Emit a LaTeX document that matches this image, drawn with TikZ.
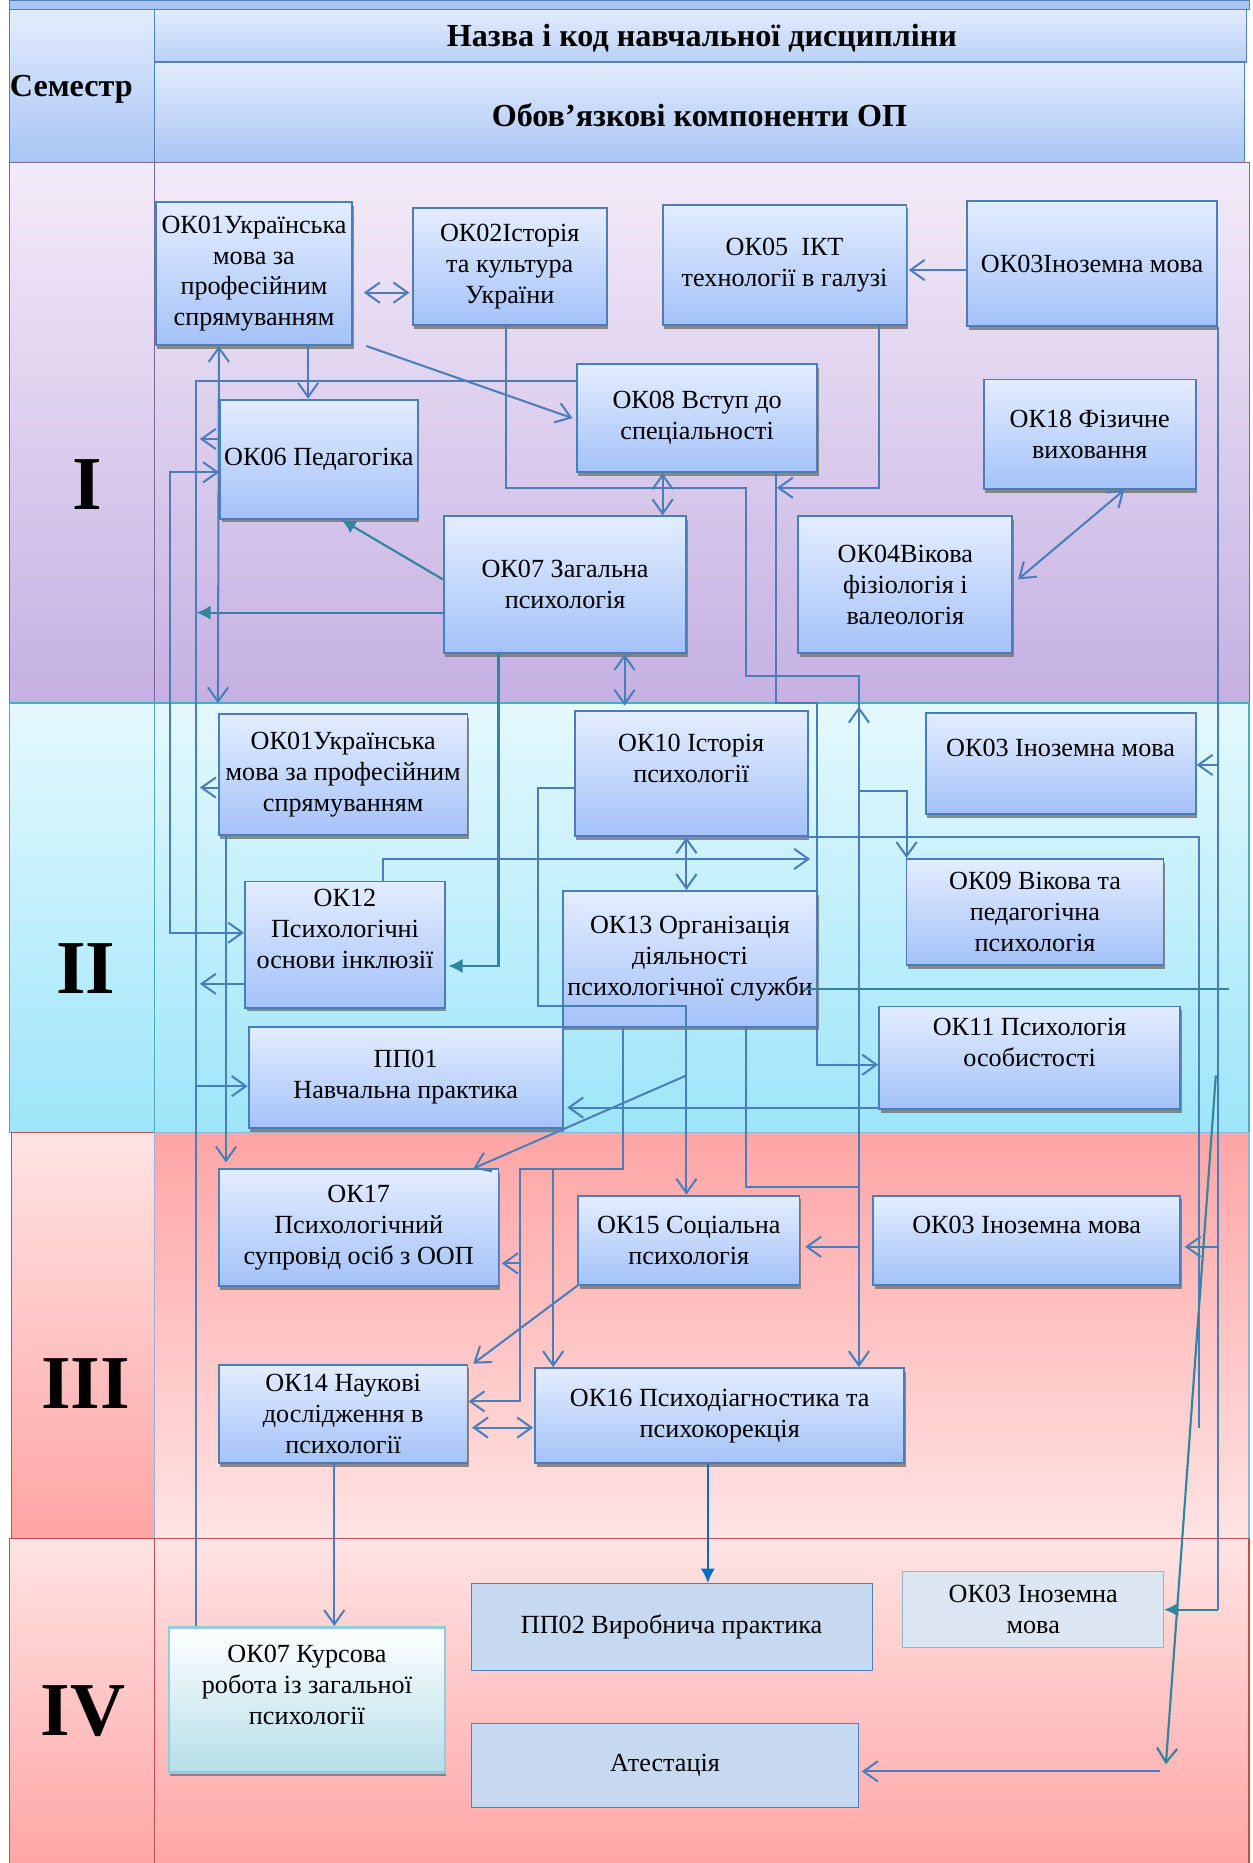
\documentclass[tikz,border=0pt]{standalone}
\usepackage{fontspec}
\setmainfont{Liberation Serif}
\usetikzlibrary{arrows.meta,shadows}

\definecolor{linec}{HTML}{4A7EBB}
\definecolor{tealc}{HTML}{31859C}
\definecolor{darkblue}{HTML}{0070C0}
\definecolor{boxtop}{HTML}{E4EDFF}
\definecolor{boxbot}{HTML}{A4C2F8}
\definecolor{hdtop}{HTML}{E3ECFD}
\definecolor{hdbot}{HTML}{A9C5F4}
\definecolor{hdline}{HTML}{4F81BD}
\definecolor{Itop}{HTML}{F3EBF8}
\definecolor{Ibot}{HTML}{C5B0E2}
\definecolor{Iline}{HTML}{8064A2}
\definecolor{IItop}{HTML}{E4F9FE}
\definecolor{IIbot}{HTML}{9DE5F9}
\definecolor{IIline}{HTML}{4BACC6}
\definecolor{pinklt}{HTML}{FFE3E3}
\definecolor{pinkdk}{HTML}{FFA5A5}
\definecolor{redline}{HTML}{C0504D}
\definecolor{paleline}{HTML}{95B3D7}
\definecolor{flatc}{HTML}{C6D9F1}
\definecolor{flatlt}{HTML}{DCE6F2}
\definecolor{aquatop}{HTML}{FFFFFF}
\definecolor{aquabot}{HTML}{B6DDE8}
\definecolor{aqualine}{HTML}{92CDDC}

\begin{document}
\begin{tikzpicture}[x=0.5pt,y=-0.5pt,
    >={Straight Barb[length=6pt,width=8.5pt]},
    okbox/.style={draw=linec,line width=0.8pt,top color=boxtop,bottom color=boxbot,
      drop shadow={shadow xshift=0.6pt,shadow yshift=-1.6pt,fill=black!55,opacity=0.8},
      align=center,inner sep=0pt,font=\fontsize{11}{13}\selectfont},
    flatbox/.style={draw=hdline,line width=0.4pt,fill=flatc,
      align=center,inner sep=0pt,font=\fontsize{11}{13}\selectfont},
    aquabox/.style={draw=aqualine,line width=1.2pt,top color=aquatop,bottom color=aquabot,
      drop shadow={shadow xshift=0.6pt,shadow yshift=-1.6pt,fill=black!55,opacity=0.8},
      align=center,inner sep=0pt,font=\fontsize{11}{13}\selectfont},
    headtext/.style={font=\fontsize{13.5}{16}\selectfont\bfseries},
    semtext/.style={font=\fontsize{32}{32}\selectfont\bfseries},
    conn/.style={draw=linec,line width=0.85pt},
    tline/.style={draw=tealc,line width=0.9pt},
    tconn/.style={tline,-{Latex[length=6pt,width=6pt]}},
    bconn/.style={draw=darkblue,line width=0.9pt,-{Latex[length=6pt,width=6pt]}}]

\useasboundingbox (0,0) rectangle (1053,1566);

\shadedraw[top color=hdbot,bottom color=hdbot,draw=hdline] (8,0) rectangle (1050,8);
\shadedraw[top color=hdtop,bottom color=hdbot,draw=hdline,line width=0.6pt] (8,8) rectangle (130,137);
\shadedraw[top color=hdtop,bottom color=hdbot!80!white,draw=hdline,line width=0.6pt] (130,8) rectangle (1048,52);
\shadedraw[top color=hdtop,bottom color=hdbot,draw=hdline,line width=0.6pt] (130,52) rectangle (1046,137);

\shadedraw[top color=Itop,bottom color=Ibot,draw=Iline,line width=0.4pt] (8,137) rectangle (1050,591);
\draw[Iline,line width=0.4pt] (130,137) -- (130,591);
\shadedraw[top color=IItop,bottom color=IIbot,draw=IIline,line width=0.6pt] (8,591) rectangle (1050,952);
\draw[IIline,line width=0.6pt] (130,591) -- (130,952);
\shadedraw[top color=pinklt,bottom color=pinkdk,draw=redline,line width=0.4pt] (10,952) rectangle (130,1293);
\shadedraw[top color=pinkdk,bottom color=pinklt,draw=paleline,line width=0.6pt] (130,952) rectangle (1050,1293);
\shadedraw[top color=pinklt,bottom color=pinkdk,draw=redline,line width=0.6pt] (8,1293) rectangle (1050,1570);
\draw[redline,line width=0.6pt] (130,1293) -- (130,1570);

\node[headtext,anchor=west,inner sep=0pt] (sem) at (8,75) {Семестр};
\node[headtext] (title) at (590,32) {Назва і код навчальної дисципліни};
\node[headtext] (comp) at (588,97) {Обов’язкові компоненти ОП};

\node[semtext] (s1) at (73,407) {I};
\node[semtext] (s2) at (72,814) {II};
\node[semtext] (s3) at (72,1163) {III};
\node[semtext] (s4) at (70,1438) {IV};

\node[okbox,minimum width=82.5pt,minimum height=60pt] (ok01a) at (213.5,230) {ОК01Українська\\мова за\\професійним\\спрямуванням};
\node[okbox,minimum width=81.5pt,minimum height=49pt] (ok02) at (428.5,224) {ОК02Історія\\та культура\\України};
\node[okbox,minimum width=102.5pt,minimum height=50.5pt] (ok05) at (659.5,222.5) {ОК05\ \ ІКТ\\технології в галузі};
\node[okbox,minimum width=105pt,minimum height=52.5pt] (ok03a) at (918,221.5) {ОК03Іноземна мова};
\node[okbox,minimum width=101pt,minimum height=45.5pt] (ok08) at (586,351.5) {ОК08 Вступ до\\спеціальності};
\node[okbox,minimum width=89pt,minimum height=46pt] (ok18) at (916,365) {ОК18 Фізичне\\виховання};
\node[okbox,minimum width=83pt,minimum height=50pt] (ok06) at (268,386) {ОК06 Педагогіка};
\node[okbox,minimum width=102pt,minimum height=57.5pt] (ok07) at (475,491.5) {ОК07 Загальна\\психологія};
\node[okbox,minimum width=90pt,minimum height=57.5pt] (ok04) at (761,491.5) {ОК04Вікова\\фізіологія і\\валеологія};

\node[okbox,minimum width=104.5pt,minimum height=51pt] (ok01b) at (288.5,651) {ОК01Українська\\мова за професійним\\спрямуванням};
\node[okbox,minimum width=98pt,minimum height=52.5pt] (ok10) at (581,650.5) {ОК10 Історія\\психології\\ \mbox{}};
\node[okbox,minimum width=113.5pt,minimum height=42.5pt] (ok03b) at (891.5,641.5) {ОК03 Іноземна мова\\ \mbox{}};
\node[okbox,minimum width=108pt,minimum height=44.5pt] (ok09) at (870,766.5) {ОК09 Вікова та\\педагогічна\\психологія};
\node[okbox,minimum width=84pt,minimum height=53pt] (ok12) at (290,794) {ОК12\\Психологічні\\основи інклюзії\\ \mbox{}};
\node[okbox,minimum width=107pt,minimum height=57pt] (ok13) at (580,806) {ОК13 Організація\\діяльності\\психологічної служби};
\node[okbox,minimum width=126.5pt,minimum height=43pt] (ok11) at (865.5,889) {ОК11 Психологія\\особистості\\ \mbox{}};
\node[okbox,minimum width=132pt,minimum height=42.5pt] (pp01) at (341,905.5) {ПП01\\Навчальна практика};

\node[okbox,minimum width=117.5pt,minimum height=49pt] (ok17) at (301.5,1032) {ОК17\\Психологічний\\супровід осіб з ООП};
\node[okbox,minimum width=93pt,minimum height=37.5pt] (ok15) at (579,1042.5) {ОК15 Соціальна\\психологія};
\node[okbox,minimum width=129pt,minimum height=37.5pt] (ok03c) at (863,1042.5) {ОК03 Іноземна мова\\ \mbox{}};
\node[okbox,minimum width=104.5pt,minimum height=41.5pt] (ok14) at (288.5,1188.5) {ОК14 Наукові\\дослідження в\\психології};
\node[okbox,minimum width=155pt,minimum height=40pt] (ok16) at (605,1190) {ОК16 Психодіагностика та\\психокорекція};

\node[aquabox,minimum width=116pt,minimum height=61pt] (ok07b) at (258,1429) {ОК07 Курсова\\робота із загальної\\психології\\ \mbox{}};
\node[flatbox,minimum width=168.5pt,minimum height=36.5pt] (pp02) at (564.5,1367.5) {ПП02 Виробнича практика};
\node[flatbox,fill=flatlt,draw=paleline,minimum width=109.5pt,minimum height=32pt] (ok03d) at (868.5,1353) {ОК03 Іноземна\\мова};
\node[flatbox,minimum width=163pt,minimum height=35pt] (atest) at (559,1484) {Атестація};

\coordinate (tl) at (165,0);
\coordinate (tr) at (1024,0);

\draw[conn,<->] ([xshift=4.5pt]ok01a.east |- 0,246) -- ([xshift=-1pt]ok02.west |- 0,246);
\draw[conn,->] (ok03a.west |- 0,227) -- ([xshift=0.5pt]ok05.east |- 0,227);
\draw[conn,->] (ok01a.south -| 259,0) -- (ok06.north -| 259,0);
\draw[conn,->] ([xshift=5.5pt]ok01a.south east) -- ([xshift=-1.5pt]ok08.west);
\draw[conn,->] (ok02.south -| 425,0) |- (627,410) |- (722,568) -- (ok16.north -| 722,0);
\draw[conn,->] (722,640) -- (722,594);
\draw[conn,->] (722,665) -| (ok09.north -| 762,0);
\draw[conn,->] (722,1048) -- ([xshift=2pt]ok15.east |- 0,1048);
\draw[conn,->] (ok05.south -| 739,0) |- (653,410);
\draw[conn,->] (ok08.south -| 652,0) |- (687,591) |- (ok11.west |- 0,895);
\draw[conn,<->] (ok08.south -| 557,0) -- (ok07.north -| 557,0);
\draw[tconn] (ok07.west |- 0,487) -- (ok06.south -| 287,0);
\draw[tconn] (ok07.west |- 0,515) -- (tl |- 0,515);
\draw[conn,<->] (ok18.south -| 945,0) -- ([xshift=2pt]ok04.east |- 0,487);

\draw[conn] (ok03a.south -| tr) -- (tr |- ok03d.east);
\draw[tconn] (tr |- ok03d.east) -- (ok03d.east);
\draw[conn,->] (tr |- 0,643) -- (ok03b.east |- 0,643);
\draw[conn,->] (tr |- 0,1048) -- ([xshift=1.5pt]ok03c.east |- 0,1048);

\draw[conn,<->] (ok01a.south -| 184,0) -- ([yshift=4pt]ok01b.north west);
\draw[conn] (ok08.west |- 0,320) -| (ok07b.north -| tl);
\draw[conn,->] (ok06.west |- 0,369) -- ([xshift=1.5pt]tl |- 0,369);
\draw[conn,->] (ok01b.west |- 0,662) -- ([xshift=1.5pt]tl |- 0,662);
\draw[conn,->] (ok12.west |- 0,827) -- ([xshift=1.5pt]tl |- 0,827);
\draw[conn,->] (tl |- 0,913) -- (pp01.west |- 0,913);
\draw[conn,<->] (ok06.west |- 0,397) -| (143,784) -- (ok12.west |- 0,784);
\draw[conn,->] (ok01b.south -| 190,0) -- ([yshift=2.5pt]ok17.north -| 190,0);

\draw[conn,->] (ok12.north -| 322,0) |- (681,722);
\draw[conn,<->] (ok10.south -| 577,0) -- (ok13.north -| 577,0);
\draw[conn,->] (ok10.west |- 0,662) -| (452,846) -| (ok15.north -| 577,0);
\draw[tconn] (ok07.south -| 419,0) |- ([xshift=1pt]ok12.east |- 0,812);
\draw[conn,<->] (ok07.south -| 525,0) -- ([yshift=2pt]ok10.north -| 525,0);
\draw[conn] (ok10.south east) -| (1008,1200);
\draw[tline] ([xshift=-6pt]ok13.east |- 0,831) -- (1033,831);
\draw[tline,->] (1022,904) -- (980,1483);
\draw[conn,->] (975,1489) -- ([xshift=1pt]atest.east |- 0,1489);

\draw[conn,->] (ok13.south -| 524,0) |- (437,983) |- (ok14.east |- 0,1178);
\draw[conn,->] (465,983) -- (ok16.north -| 465,0);
\draw[conn,->] (437,1062) -- ([xshift=1pt]ok17.east |- 0,1062);
\draw[conn] (ok13.south -| 627,0) |- (722,998);
\draw[conn,->] (577,904) -- ([xshift=-11pt]ok17.north east);
\draw[conn,->] (ok11.west |- 0,931) -- ([xshift=1.5pt]pp01.east |- 0,931);
\draw[conn,->] (ok15.south west) -- ([xshift=2pt]ok14.north east);
\draw[conn,<->] ([xshift=1.5pt]ok14.east |- 0,1200) -- ([xshift=-0.5pt]ok16.west |- 0,1200);
\draw[conn,->] (ok14.south -| 281,0) -- (ok07b.north -| 281,0);
\draw[bconn] (ok16.south -| 595,0) -- (pp02.north -| 595,0);
\end{tikzpicture}
\end{document}
